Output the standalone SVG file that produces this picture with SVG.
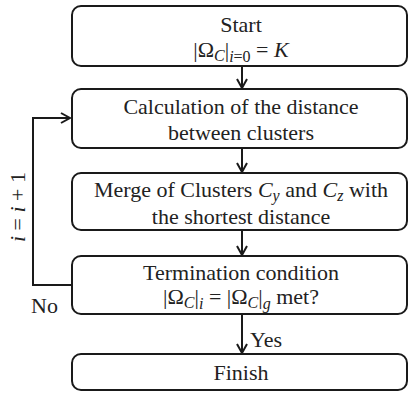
<svg xmlns="http://www.w3.org/2000/svg" width="409" height="393" viewBox="0 0 409 393">
<style>
.box{fill:#fff;stroke:#1a1a1a;stroke-width:2}
.ln{fill:none;stroke:#1a1a1a;stroke-width:2}
text{font-family:"Liberation Serif","Times New Roman",serif;font-size:22px;fill:#222}
.t{text-anchor:middle}
.i{font-style:italic}
.s{font-size:16px}
</style>
<defs>
<marker id="ah" markerWidth="12" markerHeight="12" refX="10" refY="6" orient="auto" markerUnits="userSpaceOnUse">
<path d="M1,1 L10,6 L1,11" fill="none" stroke="#1a1a1a" stroke-width="2"/>
</marker>
</defs>
<g id="connectors">
<line class="ln" x1="242" y1="66" x2="242" y2="88" marker-end="url(#ah)"/>
<line class="ln" x1="242" y1="148" x2="242" y2="172" marker-end="url(#ah)"/>
<line class="ln" x1="242" y1="230" x2="242" y2="255" marker-end="url(#ah)"/>
<line class="ln" x1="242" y1="314" x2="242" y2="353" marker-end="url(#ah)"/>
<path class="ln" d="M72,285 H33 V118 H70" marker-end="url(#ah)"/>
<text x="250" y="347">Yes</text>
<text x="31" y="313">No</text>
<text transform="translate(25,207) rotate(-90)" text-anchor="middle"><tspan class="i">i</tspan> = <tspan class="i">i</tspan> + 1</text>
</g>
<g id="start">
<rect class="box" x="72" y="6" width="335" height="60" rx="9"/>
<text class="t" x="241" y="32">Start</text>
<text class="t" x="241" y="57">|Ω<tspan class="i s" dy="4">C</tspan><tspan dy="-4">|</tspan><tspan class="s" dy="5"><tspan class="i">i</tspan>=0</tspan><tspan dy="-5"> = </tspan><tspan class="i">K</tspan></text>
</g>
<g id="calc">
<rect class="box" x="72" y="89" width="335" height="59" rx="9"/>
<text class="t" x="241" y="114">Calculation of the distance</text>
<text class="t" x="241" y="140">between clusters</text>
</g>
<g id="merge">
<rect class="box" x="72" y="173" width="335" height="57" rx="9"/>
<text class="t" x="241" y="197">Merge of Clusters <tspan class="i">C</tspan><tspan class="i s" dy="4">y</tspan><tspan dy="-4"> and </tspan><tspan class="i">C</tspan><tspan class="i s" dy="4">z</tspan><tspan dy="-4"> with</tspan></text>
<text class="t" x="241" y="224">the shortest distance</text>
</g>
<g id="term">
<rect class="box" x="72" y="256" width="335" height="58" rx="9"/>
<text class="t" x="241" y="280">Termination condition</text>
<text class="t" x="241" y="304">|Ω<tspan class="i s" dy="4">C</tspan><tspan dy="-4">|</tspan><tspan class="i s" dy="5">i</tspan><tspan dy="-5"> = |Ω</tspan><tspan class="i s" dy="4">C</tspan><tspan dy="-4">|</tspan><tspan class="i s" dy="5">g</tspan><tspan dy="-5"> met?</tspan></text>
</g>
<g id="finish">
<rect class="box" x="72" y="354" width="335" height="36" rx="9"/>
<text class="t" x="241" y="380">Finish</text>
</g>
</svg>
